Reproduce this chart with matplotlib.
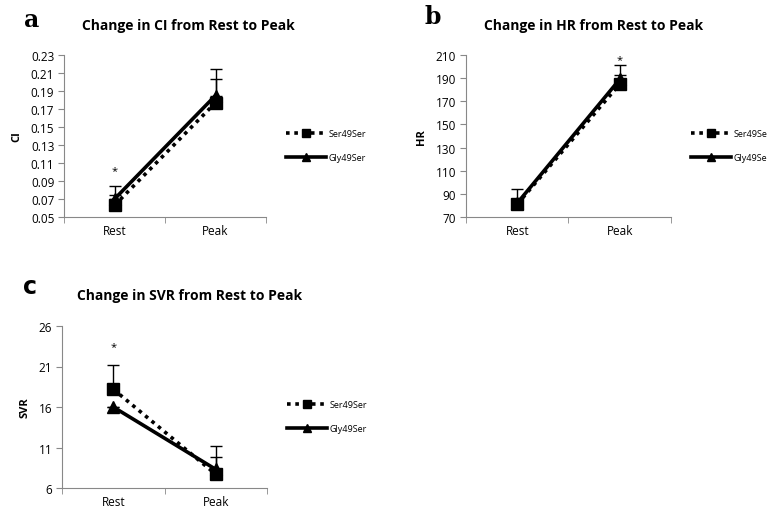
import matplotlib
matplotlib.use("Agg")
import matplotlib.pyplot as plt

# data
stages = ["Rest", "Peak"]
groups = ["Ser49Ser", "Gly49Ser"]

ci_ser = [0.063, 0.177]
ci_gly = [0.070, 0.185]
ci_ser_err = [0.012, 0.026]
ci_gly_err = [0.014, 0.030]

hr_ser = [81, 185]
hr_gly = [82, 189]
hr_ser_err = [3, 8]
hr_gly_err = [12, 12]

svr_ser = [18.2, 7.7]
svr_gly = [16.0, 8.3]
svr_ser_err = [3.0, 3.5]
svr_gly_err = [0.0, 1.5]

plt.rcParams['font.family'] = ['Open Sans', 'DejaVu Sans']

fig = plt.figure(figsize=(7.77, 5.10), dpi=100)


def panel(rect, ser, gly, ser_err, gly_err, yticks, ylabel, title, letter,
          star_pos, legend_names, letter_xy, title_xy, letter_family):
    ax = fig.add_axes(rect)
    xs = [0.5, 1.5]
    ax.errorbar(xs, ser, yerr=[[0, 0], ser_err], fmt='none', ecolor='black',
                elinewidth=1, capsize=4, capthick=1, zorder=2)
    ax.errorbar(xs, gly, yerr=[[0, 0], gly_err], fmt='none', ecolor='black',
                elinewidth=1, capsize=4, capthick=1, zorder=2)
    ax.plot(xs, ser, linestyle=(0, (1, 1.3)), color='black', lw=2.6,
            marker='s', markersize=8, label=legend_names[0], zorder=3)
    ax.plot(xs, gly, linestyle='-', color='black', lw=2.6,
            marker='^', markersize=8, label=legend_names[1], zorder=3)
    ax.set_xlim(0, 2)
    ax.set_ylim(yticks[0], yticks[-1])
    ax.set_yticks(yticks)
    ax.set_yticklabels([str(t) for t in yticks], fontsize=8.5)
    ax.set_xticks(xs)
    ax.set_xticklabels(stages, fontsize=8.5)
    ax.set_xticks([0, 1, 2], minor=True)
    ax.tick_params(axis='x', which='major', length=0, pad=5)
    ax.tick_params(axis='x', which='minor', length=4, direction='out',
                   color='#888888')
    ax.tick_params(axis='y', length=4, direction='out', color='#888888',
                   pad=3)
    for s in ['top', 'right']:
        ax.spines[s].set_visible(False)
    for s in ['left', 'bottom']:
        ax.spines[s].set_color('#888888')
    ax.set_ylabel(ylabel, fontsize=8, fontweight='bold', labelpad=6)
    ax.text(star_pos[0], star_pos[1], '*', ha='center', va='center',
            fontsize=8)
    fig.text(title_xy[0], title_xy[1], title, ha='center', va='center',
             fontsize=10, fontweight='bold')
    fig.text(letter_xy[0], letter_xy[1], letter, ha='center', va='center',
             fontsize=17, fontweight='bold', family=letter_family)
    ax.legend(loc='center left', bbox_to_anchor=(1.06, 0.44), frameon=False,
              fontsize=6.5, handlelength=4.4, labelspacing=1.7,
              handletextpad=0.3, markerscale=0.7)
    return ax


W, H = 777, 510

panel([64 / W, 1 - 218 / H, 202 / W, 162 / H], ci_ser, ci_gly,
      ci_ser_err, ci_gly_err,
      [0.05, 0.07, 0.09, 0.11, 0.13, 0.15, 0.17, 0.19, 0.21, 0.23],
      "CI", "Change in CI from Rest to Peak", "a", (0.5, 0.102),
      ["Ser49Ser", "Gly49Ser"], (32 / W, 1 - 20 / H), (188 / W, 1 - 26 / H),
      'DejaVu Serif')

panel([466 / W, 1 - 218 / H, 205 / W, 162 / H], hr_ser, hr_gly,
      hr_ser_err, hr_gly_err,
      [70, 90, 110, 130, 150, 170, 190, 210],
      "HR", "Change in HR from Rest to Peak", "b", (1.5, 206),
      ["Ser49Se", "Gly49Se"], (433 / W, 1 - 17 / H), (594 / W, 1 - 26 / H),
      'DejaVu Serif')

panel([62 / W, 1 - 489 / H, 205 / W, 162 / H], svr_ser, svr_gly,
      svr_ser_err, svr_gly_err,
      [6, 11, 16, 21, 26],
      "SVR", "Change in SVR from Rest to Peak", "c", (0.5, 23.4),
      ["Ser49Ser", "Gly49Ser"], (30 / W, 1 - 287 / H), (190 / W, 1 - 296 / H),
      'DejaVu Sans')

fig.savefig("out.png", dpi=100)
